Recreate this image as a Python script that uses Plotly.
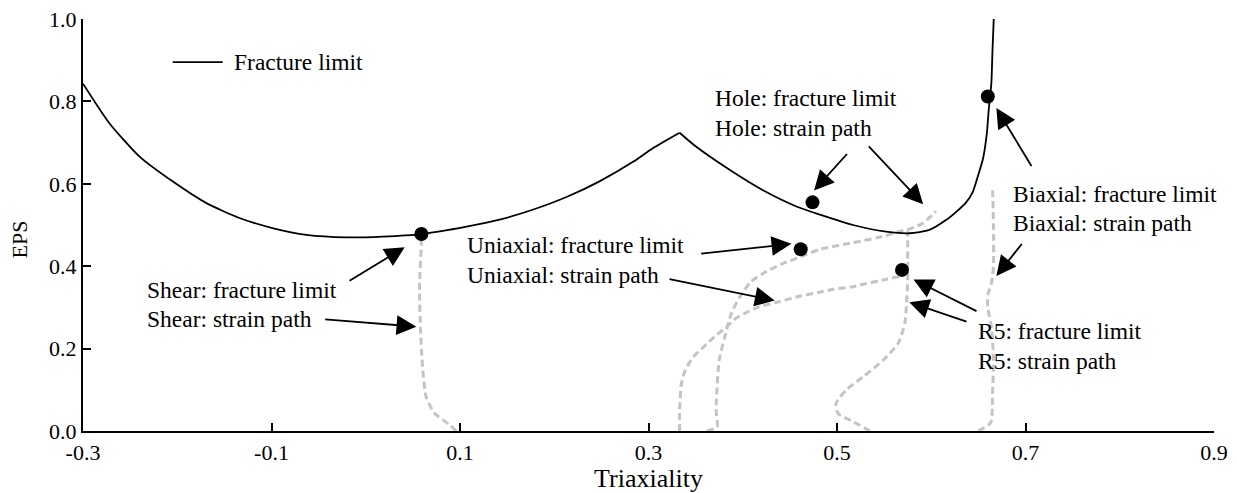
import plotly.graph_objects as go

# ---------------- data ----------------
# fracture limit, left branch (up to the peak at 1/3) and right branch
frac_left_x = [-0.300, -0.272, -0.240, -0.205, -0.169, -0.134, -0.098, -0.063, -0.020, 0.018,
               0.059, 0.107, 0.142, 0.177, 0.213, 0.248, 0.284, 0.305, 0.333]
frac_left_y = [0.843, 0.747, 0.666, 0.606, 0.553, 0.517, 0.492, 0.476, 0.470, 0.472,
               0.478, 0.496, 0.513, 0.537, 0.568, 0.606, 0.654, 0.687, 0.724]
frac_right_x = [0.333, 0.350, 0.386, 0.421, 0.457, 0.482, 0.517, 0.552, 0.577, 0.598,
                0.616, 0.628, 0.637, 0.644, 0.649, 0.655, 0.659, 0.661, 0.6638, 0.665, 0.6663]
frac_right_y = [0.724, 0.691, 0.634, 0.585, 0.545, 0.525, 0.500, 0.484, 0.480, 0.488,
                0.5125, 0.535, 0.555, 0.580, 0.615, 0.662, 0.723, 0.780, 0.845, 0.925, 1.0]

shear_x = [0.096, 0.089, 0.073, 0.064, 0.060, 0.058, 0.057, 0.059, 0.059]
shear_y = [0.000, 0.015, 0.043, 0.083, 0.164, 0.253, 0.350, 0.456, 0.478]

uni_x = [0.333, 0.333, 0.335, 0.339, 0.348, 0.359, 0.370, 0.381, 0.393, 0.406,
         0.418, 0.439, 0.460, 0.482, 0.496, 0.517, 0.531, 0.552, 0.566]
uni_y = [0.000, 0.050, 0.116, 0.148, 0.181, 0.205, 0.229, 0.249, 0.274, 0.290,
         0.302, 0.314, 0.327, 0.337, 0.344, 0.350, 0.358, 0.368, 0.375]

hole_x = [0.362, 0.373, 0.372, 0.372, 0.375, 0.381, 0.388, 0.397, 0.409, 0.425,
          0.443, 0.457, 0.482, 0.517, 0.552, 0.565, 0.574, 0.591, 0.605]
hole_y = [0.000, 0.010, 0.040, 0.075, 0.172, 0.229, 0.286, 0.326, 0.363, 0.387,
          0.407, 0.419, 0.441, 0.457, 0.474, 0.484, 0.488, 0.504, 0.533]

r5_x = [0.535, 0.517, 0.501, 0.499, 0.510, 0.528, 0.549, 0.565, 0.572, 0.574,
        0.575, 0.575, 0.575, 0.575]
r5_y = [0.000, 0.023, 0.043, 0.067, 0.100, 0.132, 0.172, 0.213, 0.262, 0.318,
        0.367, 0.415, 0.464, 0.485]

biax_x = [0.650, 0.663, 0.665, 0.666, 0.664, 0.660, 0.660, 0.664, 0.666, 0.666, 0.665]
biax_y = [0.000, 0.020, 0.090, 0.170, 0.250, 0.300, 0.330, 0.360, 0.400, 0.500, 0.595]

pts_name = ["Shear", "Uniaxial", "Hole", "R5", "Biaxial"]
pts_x = [0.059, 0.4615, 0.474, 0.569, 0.660]
pts_y = [0.478, 0.441, 0.555, 0.391, 0.812]

x_ticks = [-0.3, -0.1, 0.1, 0.3, 0.5, 0.7, 0.9]
y_ticks = [0.0, 0.2, 0.4, 0.6, 0.8, 1.0]

FONT = "Liberation Serif"
GRAY = "#c4c4c4"

fig = go.Figure()

for nm, xs, ys in [("Shear: strain path", shear_x, shear_y),
                   ("Uniaxial: strain path", uni_x, uni_y),
                   ("Hole: strain path", hole_x, hole_y),
                   ("R5: strain path", r5_x, r5_y),
                   ("Biaxial: strain path", biax_x, biax_y)]:
    fig.add_trace(go.Scatter(x=xs, y=ys, mode="lines", name=nm, showlegend=False,
                             line=dict(color=GRAY, width=3, dash="7px,4px",
                                       shape="spline", smoothing=0.6)))

for xs, ys in [(frac_left_x, frac_left_y), (frac_right_x, frac_right_y)]:
    fig.add_trace(go.Scatter(x=xs, y=ys, mode="lines", name="Fracture limit",
                             legendgroup="frac", showlegend=False,
                             line=dict(color="black", width=1.8, shape="spline", smoothing=0.6)))

fig.add_trace(go.Scatter(x=pts_x, y=pts_y, mode="markers", text=pts_name,
                         showlegend=False,
                         marker=dict(color="black", size=14)))

# manual legend entry
fig.add_shape(type="line", xref="paper", yref="paper",
              x0=0.0793, x1=0.1235, y0=0.8955, y1=0.8955,
              line=dict(color="black", width=1.8))

annotations = []
def label(text, x, y):
    annotations.append(dict(text=text, x=x, y=y, xref="x", yref="y", showarrow=False,
                            xanchor="left", yanchor="middle",
                            font=dict(family=FONT, size=23.5, color="black")))

def arrow(tx, ty, hx, hy):
    annotations.append(dict(text="", x=hx, y=hy, ax=tx, ay=ty, xref="x", yref="y",
                            axref="x", ayref="y", showarrow=True, arrowhead=2,
                            arrowsize=2.2, arrowwidth=1.8, arrowcolor="black"))

annotations.append(dict(text="Fracture limit", x=0.1315, y=0.8955, xref="paper", yref="paper",
                        showarrow=False, xanchor="left", yanchor="middle",
                        font=dict(family=FONT, size=23.5, color="black")))

# y-axis title
annotations.append(dict(text="EPS", x=-0.056, y=0.464, xref="paper", yref="paper",
                        showarrow=False, textangle=-90, xanchor="center", yanchor="middle",
                        font=dict(family=FONT, size=22, color="black")))

label("Shear: fracture limit", -0.2345, 0.343)
label("Shear: strain path", -0.2345, 0.271)
arrow(-0.0188, 0.3626, 0.0413, 0.446)
arrow(-0.0446, 0.2713, 0.0537, 0.2533)

label("Uniaxial: fracture limit", 0.105, 0.451)
label("Uniaxial: strain path", 0.105, 0.378)
arrow(0.3543, 0.430, 0.4516, 0.4542)
arrow(0.3207, 0.3692, 0.4339, 0.3165)

label("Hole: fracture limit", 0.3684, 0.809)
label("Hole: strain path", 0.3684, 0.736)
arrow(0.5120, 0.676, 0.4757, 0.5837)
arrow(0.5322, 0.6947, 0.5914, 0.5506)

label("Biaxial: fracture limit", 0.6843, 0.5764)
label("Biaxial: strain path", 0.6843, 0.5052)
arrow(0.7073, 0.6396, 0.6691, 0.7838)
arrow(0.6973, 0.4574, 0.6691, 0.3765)

label("R5: fracture limit", 0.6479, 0.2422)
label("R5: strain path", 0.6479, 0.1693)
arrow(0.6496, 0.2890, 0.5812, 0.3680)
arrow(0.6390, 0.2643, 0.5767, 0.3128)

fig.update_layout(
    width=1237, height=493, autosize=False,
    margin=dict(l=83, r=23, t=19, b=62),
    paper_bgcolor="white", plot_bgcolor="white",
    font=dict(family=FONT, size=22, color="black"),
    annotations=annotations,
    showlegend=False,
)
fig.update_xaxes(range=[-0.3, 0.9], tickvals=x_ticks, ticktext=[f"{v:.1f}" for v in x_ticks],
                 ticks="inside", ticklen=8, tickwidth=2, tickcolor="black", automargin=False,
                 showline=True, linewidth=2, linecolor="black", showgrid=False, zeroline=False,
                 title=dict(text="Triaxiality", standoff=7), ticklabelstandoff=1)
fig.update_yaxes(range=[0, 1.0], tickvals=y_ticks, ticktext=[f"{v:.1f}" for v in y_ticks],
                 ticks="inside", ticklen=8, tickwidth=2, tickcolor="black", automargin=False,
                 showline=True, linewidth=2, linecolor="black", showgrid=False, zeroline=False,
                 ticklabelstandoff=0)

fig.write_html("out.html")
